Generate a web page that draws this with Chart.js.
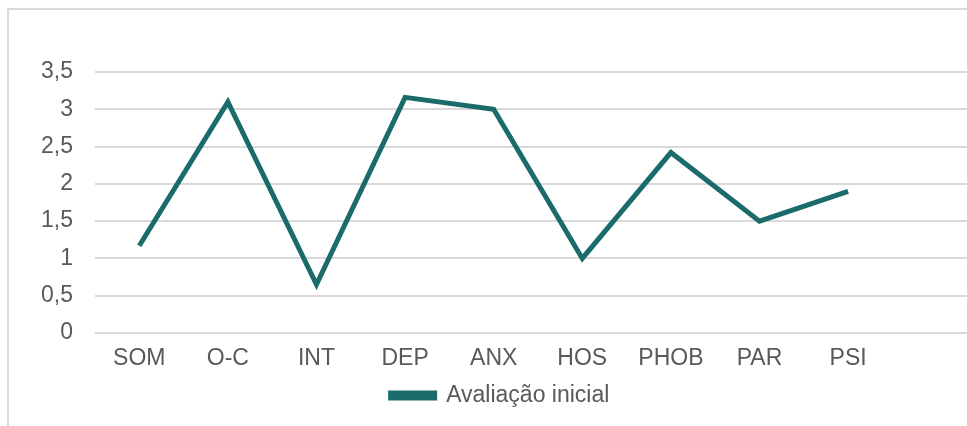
<!DOCTYPE html>
<html>
<head>
<meta charset="utf-8">
<script src="https://cdn.jsdelivr.net/npm/chart.js@4"></script>
<style>
  html, body { margin: 0; padding: 0; background: #fff; overflow: hidden; }
  #frame {
    position: absolute; left: 7px; top: 8px;
    width: 1000px; height: 416px;
    border: 2px solid #d9d9d9;
  }
  #wrap { position: absolute; left: 0; top: 0; width: 985px; height: 412px; }
</style>
</head>
<body>
<div id="frame">
  <div id="wrap"><canvas id="chart"></canvas></div>
</div>
<script>
// categories (last slot is empty in the original)
const categories = ['SOM', 'O-C', 'INT', 'DEP', 'ANX', 'HOS', 'PHOB', 'PAR', 'PSI', ''];
const avaliacaoInicial = [1.17, 3.1, 0.65, 3.16, 3.0, 1.0, 2.42, 1.5, 1.9, null];
const seriesName = 'Avaliação inicial';
const yMin = 0, yMax = 3.5, yStep = 0.5;

const teal = '#1b6b6b';
const gridColor = '#d9d9d9';
const textColor = '#595959';
const font = { family: '"Liberation Sans", Arial, sans-serif', size: 23 };

new Chart(document.getElementById('chart'), {
    type: 'line',
    data: {
        labels: categories,
        datasets: [{
            label: seriesName,
            data: avaliacaoInicial,
            borderColor: teal,
            backgroundColor: teal,
            borderWidth: 5,
            pointRadius: 0,
            tension: 0,
            borderJoinStyle: 'miter'
        }]
    },
    options: {
        responsive: true,
        maintainAspectRatio: false,
        animation: false,
        layout: { padding: { left: 10, top: 62, right: 13, bottom: 5 } },
        scales: {
            x: {
                offset: true,
                grid: { display: false, drawTicks: false },
                border: { display: false },
                ticks: {
                    color: textColor,
                    font: Object.assign({}, font, { lineHeight: 1 }),
                    padding: 14, maxRotation: 0, autoSkip: false
                }
            },
            y: {
                min: yMin,
                max: yMax,
                grid: { color: gridColor, lineWidth: 2, drawTicks: false },
                border: { display: false },
                ticks: {
                    stepSize: yStep,
                    color: textColor,
                    font: font,
                    padding: 22,
                    callback: v => String(v).replace('.', ',')
                }
            }
        },
        plugins: {
            legend: {
                position: 'bottom',
                labels: {
                    color: textColor,
                    font: font,
                    boxWidth: 44,
                    boxHeight: 5,
                    padding: 0
                }
            },
            tooltip: { enabled: false }
        }
    }
});
</script>
</body>
</html>
